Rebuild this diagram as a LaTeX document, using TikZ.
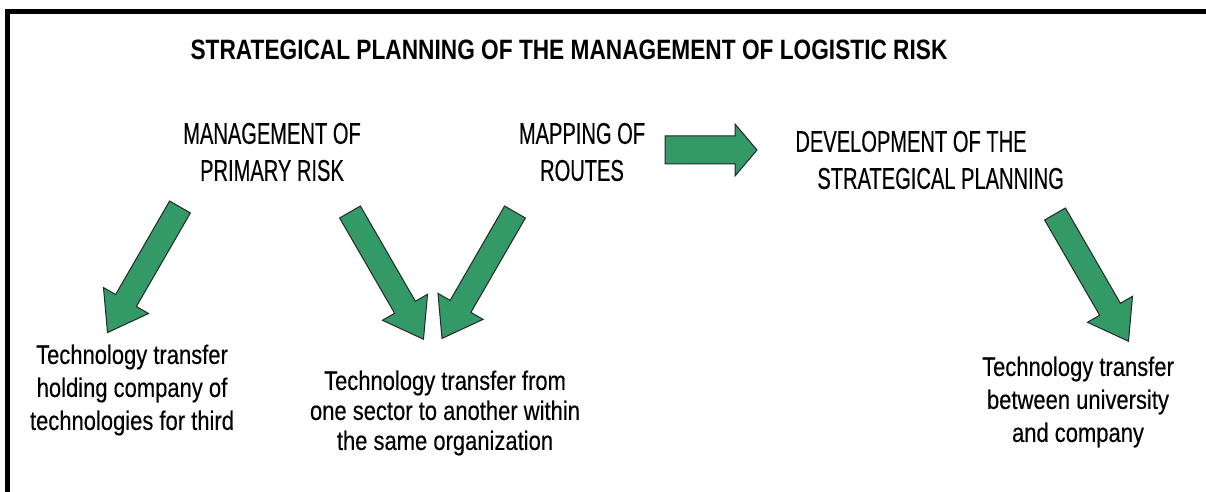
\documentclass[tikz,border=0pt]{standalone}
\usepackage{fontspec}
\usepackage{tikz}

\setmainfont{Liberation Sans}[FakeStretch=0.82, FakeBold=0.3]
\newfontfamily\headfont{Liberation Sans}[FakeStretch=0.67, FakeBold=0.3]
\newfontfamily\titlefont{Liberation Sans}[FakeStretch=0.81]

\definecolor{arrowgreen}{RGB}{51,153,102}

\tikzset{
  maintitle/.style={font=\titlefont\bfseries\fontsize{14}{16}\selectfont, inner sep=0pt},
  risk/.style={font=\headfont\fontsize{15}{18.5}\selectfont, align=center, inner sep=0pt},
  transfer/.style={font=\fontsize{13.4}{16.5}\selectfont, align=center, inner sep=0pt},
  greenarrow/.style={fill=arrowgreen, draw=black!85, line width=0.5pt, line join=miter}
}

% fat block arrow: #1 tail, #2 angle, #3 length, #4 head length, optional shaft half width
\newcommand{\fatarrow}[5][12]{%
  \filldraw[greenarrow, shift={#2}, rotate=#3]
    (0,-#1) -- ({#4-#5},-#1) -- ({#4-#5},-26) -- (#4,0)
    -- ({#4-#5},26) -- ({#4-#5},#1) -- (0,#1) -- cycle;}

\begin{document}
\begin{tikzpicture}[x=0.5pt,y=-0.5pt]
        \useasboundingbox (0,0) rectangle (1206,492);
        % frame, top and left only
        \draw[line width=2.5pt] (7,500) -- (7,12) -- (1215,12);

        \node[maintitle] (title) at (569,50) {STRATEGICAL PLANNING OF THE MANAGEMENT OF LOGISTIC RISK};

        \node[risk] (primary) at (272,152) {MANAGEMENT OF\\PRIMARY RISK};
        \node[risk] (routes) at (582,152) {MAPPING OF\\ROUTES};
        \node[risk, align=left, anchor=west] (develop) at (795,160)
            {DEVELOPMENT OF THE\\\hspace*{11pt}STRATEGICAL PLANNING};

        \node[transfer] (third) at (132,390)
            {Technology transfer\\holding company of\\technologies for third};
        \node[transfer, font=\fontsize{13.4}{15}\selectfont] (sector) at (445,413)
            {Technology transfer from\\one sector to another within\\the same organization};
        \node[transfer] (univ) at (1078,402)
            {Technology transfer\\between university\\and company};

        % arrows
        \fatarrow[14]{(665,150)}{0}{92}{22}
        \fatarrow{(180,207)}{240}{145}{37}
        \fatarrow{(350,212)}{-60}{147}{37}
        \fatarrow{(515,212)}{240}{146}{37}
        \fatarrow{(1055,214)}{-60}{147}{37}
    \end{tikzpicture}
\end{document}
